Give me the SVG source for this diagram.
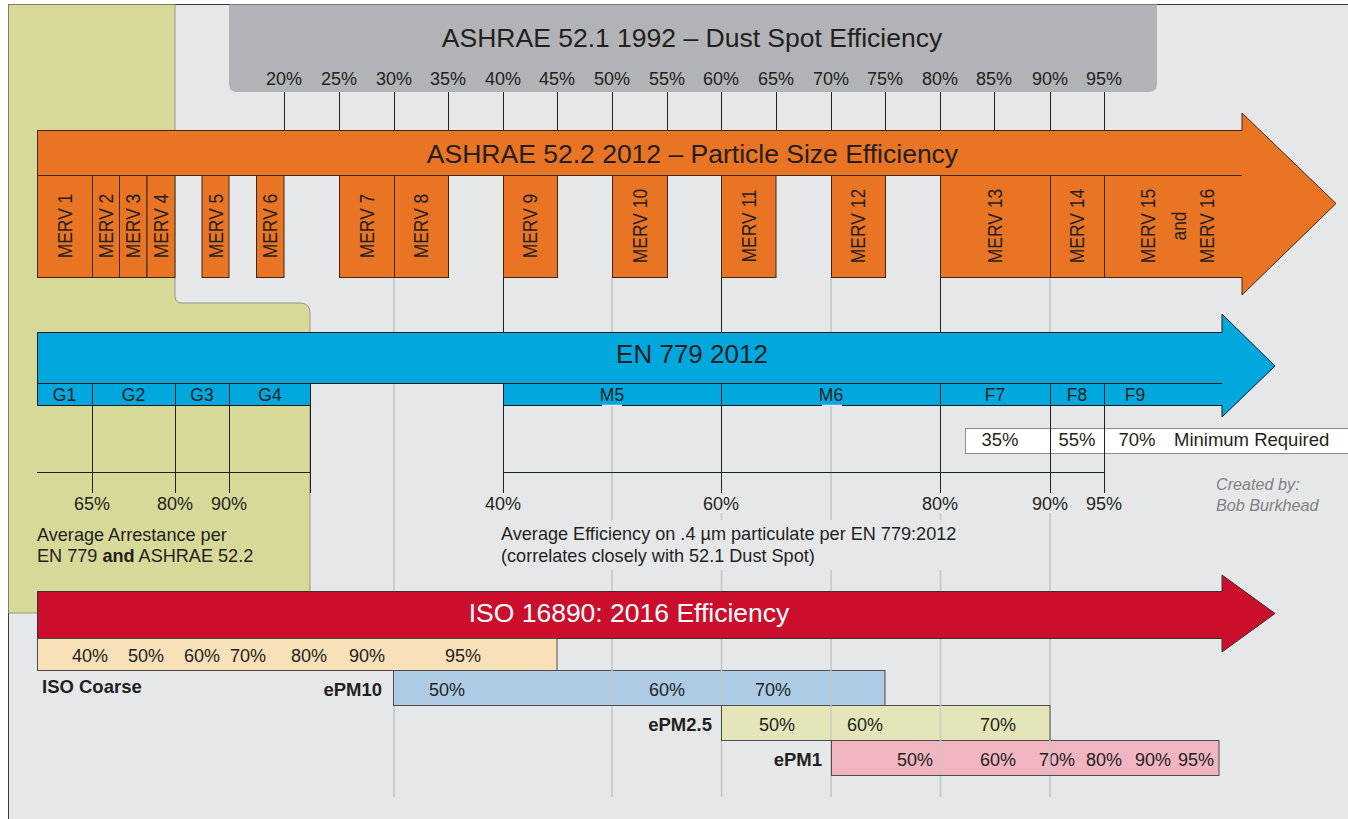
<svg xmlns="http://www.w3.org/2000/svg" width="1348" height="819" viewBox="0 0 1348 819">
<defs>
<style>
.t{font-family:"Liberation Sans",Arial,Helvetica,sans-serif;fill:#231f20}
.b{font-weight:bold}
.p{font-size:18px;text-anchor:middle}
.big{font-size:26.5px;text-anchor:middle}
.mv{font-size:18px;text-anchor:middle}
.dk{stroke:#231f20;stroke-width:1;fill:none}
.gl{stroke:#c6c7c9;stroke-width:1.6;fill:none}
.or{fill:#e87424;stroke:#3d2814;stroke-width:1}
.bl{fill:#00a8de;stroke:#1a1a1a;stroke-width:1}
.rd{fill:#cc0e2d;stroke:#333;stroke-width:1}
.sub{stroke:#4d4d4d;stroke-width:1}
</style>
</defs>
<rect x="0" y="0" width="1348" height="819" fill="#ffffff"/>
<rect x="8.5" y="4.5" width="1345" height="820" fill="#e6e7e8" stroke="#3a3a3a" stroke-width="1"/>

<g id="arrestance-zone">
<path d="M8.5,4.5 H175 V296 Q175,303 182,303 H300 Q310,303 310,313 V613 H8.5 Z" fill="#d7d999" stroke="#7a7a66" stroke-width="0.7"/>
</g>

<g id="ashrae-52-1">
<path d="M229,4.5 H1157 V84 Q1157,92 1149,92 H237 Q229,92 229,84 Z" fill="#b1b3b6"/>
<text class="t big" x="692" y="47">ASHRAE 52.1 1992 – Dust Spot Efficiency</text>
<g class="t p">
<text x="284" y="85">20%</text><text x="339" y="85">25%</text><text x="394" y="85">30%</text><text x="448" y="85">35%</text>
<text x="503" y="85">40%</text><text x="557" y="85">45%</text><text x="612" y="85">50%</text><text x="667" y="85">55%</text>
<text x="721" y="85">60%</text><text x="776" y="85">65%</text><text x="831" y="85">70%</text><text x="885" y="85">75%</text>
<text x="940" y="85">80%</text><text x="994" y="85">85%</text><text x="1050" y="85">90%</text><text x="1104" y="85">95%</text>
</g>
</g>

<g id="connectors">
<g class="gl">
<line x1="394" y1="277" x2="394" y2="797"/>
<line x1="612" y1="277" x2="612" y2="520"/><line x1="612" y1="570" x2="612" y2="797"/>
<line x1="721.5" y1="513" x2="721.5" y2="520"/><line x1="721.5" y1="570" x2="721.5" y2="797"/>
<line x1="831" y1="277" x2="831" y2="520"/><line x1="831" y1="570" x2="831" y2="797"/>
<line x1="940.5" y1="513" x2="940.5" y2="520"/><line x1="940.5" y1="570" x2="940.5" y2="797"/>
<line x1="1050" y1="277" x2="1050" y2="383"/><line x1="1050" y1="513" x2="1050" y2="797"/>
</g>
<g class="dk">
<path d="M284.5,92V130 M339.5,92V130 M394.5,92V130 M448.5,92V130 M503.5,92V130 M557.5,92V130 M612.5,92V130 M667.5,92V130 M721.5,92V130 M776.5,92V130 M831.5,92V130 M885.5,92V130 M940.5,92V130 M994.5,92V130 M1050.5,92V130 M1104.5,92V130"/>
<path d="M92.5,383V493 M175.5,383V493 M229.5,383V493 M310.5,383V493 M503.5,277V493 M721.5,277V493 M940.5,277V493 M1050.5,383V493 M1104.5,383V493"/>
<path d="M37,472.5H310.5 M503,472.5H1104.5"/>
</g>
</g>

<g id="ashrae-52-2">
<path class="or" d="M37.5,130.5 H1242 V113 L1336,203.5 L1242,295 V277.5 H940.5 V175.5 H37.5 Z"/>
<path d="M940.5,175.5H1242 M1050.5,175.5V277.5 M1104.5,175.5V277.5" stroke="#3d2814" stroke-width="1" fill="none"/>
<rect class="or" x="37.5" y="175.5" width="55" height="102"/>
<rect class="or" x="92.5" y="175.5" width="27" height="102"/>
<rect class="or" x="119.5" y="175.5" width="27.5" height="102"/>
<rect class="or" x="147" y="175.5" width="28" height="102"/>
<rect class="or" x="202" y="175.5" width="27" height="102"/>
<rect class="or" x="256.5" y="175.5" width="27.5" height="102"/>
<rect class="or" x="339.5" y="175.5" width="55" height="102"/>
<rect class="or" x="394.5" y="175.5" width="54" height="102"/>
<rect class="or" x="503.5" y="175.5" width="54" height="102"/>
<rect class="or" x="612.5" y="175.5" width="55" height="102"/>
<rect class="or" x="721.5" y="175.5" width="54.5" height="102"/>
<rect class="or" x="831.5" y="175.5" width="54" height="102"/>
<text class="t big" x="692.5" y="163">ASHRAE 52.2 2012 – Particle Size Efficiency</text>
<g class="t mv">
<text transform="translate(72.4,226) rotate(-90) scale(0.97,1.15)">MERV 1</text>
<text transform="translate(113.4,226) rotate(-90) scale(0.97,1.15)">MERV 2</text>
<text transform="translate(140.4,226) rotate(-90) scale(0.97,1.15)">MERV 3</text>
<text transform="translate(168.4,226) rotate(-90) scale(0.97,1.15)">MERV 4</text>
<text transform="translate(222.9,226) rotate(-90) scale(0.97,1.15)">MERV 5</text>
<text transform="translate(277.4,226) rotate(-90) scale(0.97,1.15)">MERV 6</text>
<text transform="translate(373.9,226) rotate(-90) scale(0.97,1.15)">MERV 7</text>
<text transform="translate(428.4,226) rotate(-90) scale(0.97,1.15)">MERV 8</text>
<text transform="translate(537.4,226) rotate(-90) scale(0.97,1.15)">MERV 9</text>
<text transform="translate(646.9,226) rotate(-90) scale(0.97,1.15)">MERV 10</text>
<text transform="translate(755.9,226) rotate(-90) scale(0.97,1.15)">MERV 11</text>
<text transform="translate(865.4,226) rotate(-90) scale(0.97,1.15)">MERV 12</text>
<text transform="translate(1002.4,226) rotate(-90) scale(0.97,1.15)">MERV 13</text>
<text transform="translate(1084.4,226) rotate(-90) scale(0.97,1.15)">MERV 14</text>
<text transform="translate(1155.4,226) rotate(-90) scale(0.97,1.15)">MERV 15</text>
<text transform="translate(1186.4,226) rotate(-90) scale(0.97,1.15)">and</text>
<text transform="translate(1214.4,226) rotate(-90) scale(0.97,1.15)">MERV 16</text>
</g>
</g>

<g id="en-779">
<path class="bl" d="M37.5,332.5 H1222 V314 L1275,366 L1222,417 V405.5 H503.5 V383.5 H310.5 V405.5 H37.5 Z"/>
<path d="M37.5,383.5H1222 M92.5,383.5V405.5 M175.5,383.5V405.5 M229.5,383.5V405.5 M721.5,383.5V405.5 M940.5,383.5V405.5 M1050.5,383.5V405.5 M1104.5,383.5V405.5" stroke="#1a1a1a" stroke-width="1" fill="none"/>
<path d="M602,405.5H622 M822,405.5H842" stroke="#e6e7e8" stroke-width="1.5"/>
<text class="t" x="692" y="363" font-size="26" text-anchor="middle">EN 779 2012</text>
<g class="t" font-size="17.5" text-anchor="middle">
<text x="64.5" y="401">G1</text><text x="133.5" y="401">G2</text><text x="202" y="401">G3</text><text x="270" y="401">G4</text>
<text x="612" y="401">M5</text><text x="831" y="401">M6</text>
<text x="995" y="401">F7</text><text x="1077" y="401">F8</text><text x="1135" y="401">F9</text>
</g>
</g>

<g id="minimum-required">
<rect x="965.5" y="428.5" width="390" height="25" fill="#ffffff" stroke="#8a8b8d" stroke-width="1"/>
<path d="M1050.5,428V454 M1104.5,428V454" stroke="#231f20" stroke-width="1"/>
<g class="t" font-size="18.5">
<text x="1000" y="446" text-anchor="middle">35%</text>
<text x="1077" y="446" text-anchor="middle">55%</text>
<text x="1137" y="446" text-anchor="middle">70%</text>
<text x="1174" y="446">Minimum Required</text>
</g>
</g>

<g id="scale-labels" class="t p">
<text x="92" y="510">65%</text><text x="175" y="510">80%</text><text x="229" y="510">90%</text>
<text x="503" y="510">40%</text><text x="721" y="510">60%</text><text x="940" y="510">80%</text>
<text x="1050" y="510">90%</text><text x="1104" y="510">95%</text>
</g>

<g id="arrestance-note" class="t" font-size="18.1">
<text x="37" y="541">Average Arrestance per</text>
<text x="37" y="562">EN 779 <tspan font-weight="bold">and</tspan> ASHRAE 52.2</text>
</g>

<g id="efficiency-note" class="t" font-size="18.1">
<text x="501" y="540">Average Efficiency on .4 µm particulate per EN 779:2012</text>
<text x="501" y="562">(correlates closely with 52.1 Dust Spot)</text>
</g>

<g id="credit" font-family="Liberation Sans, Arial, sans-serif" font-style="italic" font-size="16.2" fill="#808285">
<text x="1216" y="490">Created by:</text>
<text x="1216" y="511">Bob Burkhead</text>
</g>

<g id="iso-16890">
<path class="rd" d="M37.5,591.5 H1222 V575 L1275,613.5 L1222,652 V638.5 H37.5 Z"/>
<text x="629" y="622" font-family="Liberation Sans, Arial, sans-serif" font-size="26.5" fill="#ffffff" text-anchor="middle">ISO 16890: 2016 Efficiency</text>
</g>

<g id="iso-coarse">
<rect class="sub" x="37.5" y="638.5" width="519.5" height="32" fill="#f8e0b8"/>
<g class="t p">
<text x="90" y="662">40%</text><text x="146" y="662">50%</text><text x="202" y="662">60%</text><text x="248" y="662">70%</text>
<text x="309" y="662">80%</text><text x="367" y="662">90%</text><text x="463" y="662">95%</text>
</g>
<text class="t b" x="42" y="693" font-size="18.5">ISO Coarse</text>
</g>

<g id="epm10">
<rect class="sub" x="393.5" y="670.5" width="491.5" height="35" fill="#aecbe6"/>
<text class="t b" x="382" y="696" font-size="18.5" text-anchor="end">ePM10</text>
<g class="t p"><text x="447" y="696">50%</text><text x="667" y="696">60%</text><text x="773" y="696">70%</text></g>
</g>

<g id="epm2-5">
<rect class="sub" x="721.5" y="705.5" width="328.5" height="35" fill="#e4e5b9"/>
<text class="t b" x="712" y="731" font-size="18.5" text-anchor="end">ePM2.5</text>
<g class="t p"><text x="777" y="731">50%</text><text x="865" y="731">60%</text><text x="998" y="731">70%</text></g>
</g>

<g id="epm1">
<rect class="sub" x="831.5" y="740.5" width="387.5" height="35" fill="#f0b5c1"/>
<text class="t b" x="822" y="766" font-size="18.5" text-anchor="end">ePM1</text>
<g class="t p"><text x="915" y="766">50%</text><text x="998" y="766">60%</text><text x="1057" y="766">70%</text><text x="1104" y="766">80%</text><text x="1153" y="766">90%</text><text x="1196" y="766">95%</text></g>
</g>

<g id="connectors-front" class="gl" stroke-opacity="0.8">
<path d="M612,670V705 M721.5,670V705 M831,670V740 M940.5,705V775 M1050,740V775"/>
</g>
</svg>
